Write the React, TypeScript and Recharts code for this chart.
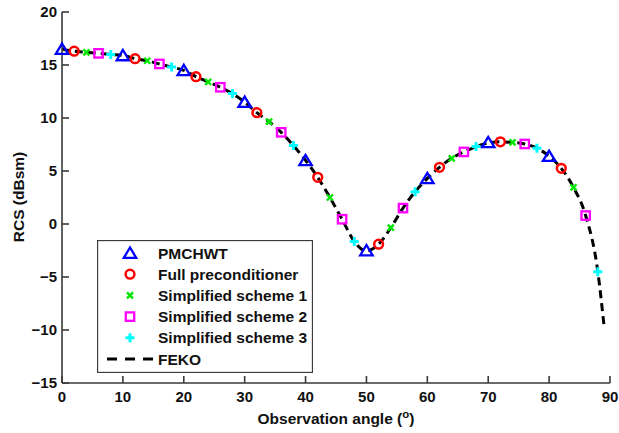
import { ComposedChart, Line, Scatter, XAxis, YAxis, Legend } from 'recharts'

// marker samples (deg, dBsm)
const pmchwtAngles = [0, 10, 20, 30, 40, 50, 60, 70, 80]
const pmchwtRcs = [16.5, 15.9, 14.5, 11.5, 6.0, -2.5, 4.3, 7.7, 6.4]
const fullAngles = [2, 12, 22, 32, 42, 52, 62, 72, 82]
const fullRcs = [16.3, 15.6, 13.9, 10.5, 4.4, -1.9, 5.35, 7.75, 5.25]
const scheme1Angles = [4, 14, 24, 34, 44, 54, 64, 74, 84]
const scheme1Rcs = [16.2, 15.4, 13.4, 9.65, 2.5, -0.35, 6.2, 7.7, 3.45]
const scheme2Angles = [6, 16, 26, 36, 46, 56, 66, 76, 86]
const scheme2Rcs = [16.1, 15.1, 12.9, 8.65, 0.45, 1.5, 6.8, 7.55, 0.8]
const scheme3Angles = [8, 18, 28, 38, 48, 58, 68, 78, 88]
const scheme3Rcs = [16.0, 14.8, 12.3, 7.4, -1.65, 3.05, 7.3, 7.15, -4.5]

// FEKO reference curve
const fekoAngles = [
  0, 2, 4, 6, 8, 10, 12, 14, 16, 18, 20, 22, 24, 26, 28, 30, 32, 34, 36, 38, 40, 42, 44,
  46, 48, 50, 52, 54, 56, 58, 60, 62, 64, 66, 68, 70, 72, 74, 76, 78, 80, 82, 84, 86, 88, 89,
]
const fekoRcs = [
  16.5, 16.3, 16.2, 16.1, 16.0, 15.9, 15.6, 15.4, 15.1, 14.8, 14.5, 13.9, 13.4, 12.9, 12.3,
  11.5, 10.5, 9.65, 8.65, 7.4, 6.0, 4.4, 2.5, 0.45, -1.65, -2.55, -1.9, -0.35, 1.5, 3.05, 4.3,
  5.35, 6.2, 6.8, 7.3, 7.65, 7.75, 7.7, 7.55, 7.15, 6.4, 5.25, 3.45, 0.8, -4.5, -9.5,
]

const xTicks = [0, 10, 20, 30, 40, 50, 60, 70, 80, 90]
const yTicks = [-15, -10, -5, 0, 5, 10, 15, 20]

const toPoints = (xs: number[], ys: number[]) => xs.map((x, i) => ({ x, y: ys[i] }))

const FONT = '"Liberation Sans", Arial, sans-serif'
const AXIS = '#3a3a3a'
const TICK_LEN = 7
const BOTTOM_GAP = 8
const LEFT_GAP = 5

const minus = (v: number) => String(v).replace('-', '\u2212')
const labelProps = { fontFamily: FONT, fontWeight: 'bold', fontSize: 15, fill: '#111' }

// inward ticks drawn with the labels (label position = axis position + gap)
const BottomTick = ({ x, y, payload }: any) => (
  <g>
    <line x1={x} x2={x} y1={y - BOTTOM_GAP} y2={y - BOTTOM_GAP - TICK_LEN} stroke={AXIS} strokeWidth={1.6} />
    <text x={x} y={y} dy="0.75em" textAnchor="middle" {...labelProps}>
      {minus(payload.value)}
    </text>
  </g>
)
const LeftTick = ({ x, y, payload }: any) => (
  <g>
    <line x1={x + LEFT_GAP} x2={x + LEFT_GAP + TICK_LEN} y1={y} y2={y} stroke={AXIS} strokeWidth={1.6} />
    <text x={x} y={y} dy="0.36em" textAnchor="end" {...labelProps}>
      {minus(payload.value)}
    </text>
  </g>
)
const TopTick = ({ x, y }: any) => (
  <line x1={x} x2={x} y1={y} y2={y + TICK_LEN} stroke={AXIS} strokeWidth={1.6} />
)
const RightTick = ({ x, y }: any) => (
  <line x1={x} x2={x - TICK_LEN} y1={y} y2={y} stroke={AXIS} strokeWidth={1.6} />
)

const Triangle = ({ cx, cy }: any) => (
  <polygon
    points={`${cx},${cy - 5.5} ${cx - 6.2},${cy + 4.8} ${cx + 6.2},${cy + 4.8}`}
    fill="none"
    stroke="#0000ff"
    strokeWidth={2.3}
  />
)
const Ring = ({ cx, cy }: any) => (
  <circle cx={cx} cy={cy} r={4.4} fill="none" stroke="#ff0000" strokeWidth={2.5} />
)
const XMark = ({ cx, cy }: any) => (
  <path
    d={`M${cx - 3},${cy - 3}L${cx + 3},${cy + 3}M${cx - 3},${cy + 3}L${cx + 3},${cy - 3}`}
    stroke="#00e600"
    strokeWidth={2.4}
  />
)
const Box = ({ cx, cy }: any) => (
  <rect x={cx - 4.2} y={cy - 4.2} width={8.4} height={8.4} fill="none" stroke="#ff00ff" strokeWidth={2.3} />
)
const Plus = ({ cx, cy }: any) => (
  <path
    d={`M${cx - 4.5},${cy}L${cx + 4.5},${cy}M${cx},${cy - 4.5}L${cx},${cy + 4.5}`}
    stroke="#00ffff"
    strokeWidth={3}
  />
)

const legendRows: [string, (p: any) => React.JSX.Element | null][] = [
  ['PMCHWT', Triangle],
  ['Full preconditioner', Ring],
  ['Simplified scheme 1', XMark],
  ['Simplified scheme 2', Box],
  ['Simplified scheme 3', Plus],
  ['FEKO', () => null],
]

function LegendBox() {
  const rowH = 21.2
  return (
    <svg width={216} height={133} style={{ display: 'block' }}>
      <rect x={0.5} y={0.5} width={215} height={132} fill="#fff" stroke={AXIS} strokeWidth={1.3} />
      {legendRows.map(([label, Icon], i) => {
        const cy = 13 + i * rowH
        return (
          <g key={label}>
            {label === 'FEKO' ? (
              <line x1={10} x2={56} y1={cy} y2={cy} stroke="#000" strokeWidth={3} strokeDasharray="10 8" />
            ) : (
              <Icon cx={33} cy={cy} />
            )}
            <text x={61} y={cy + 5.5} fontFamily={FONT} fontWeight="bold" fontSize={15.5} fill="#111">
              {label}
            </text>
          </g>
        )
      })}
    </svg>
  )
}

export default function App() {
  return (
    <div style={{ position: 'absolute', left: 0, top: 0, width: 619, height: 433, background: '#fff' }}>
      <ComposedChart
        width={619}
        height={433}
        data={toPoints(fekoAngles, fekoRcs)}
        margin={{ top: 12, right: 9, bottom: 20, left: 12 }}
      >
        <XAxis
          dataKey="x"
          type="number"
          domain={[0, 90]}
          ticks={xTicks}
          height={30}
          tick={BottomTick}
          tickLine={false}
          tickSize={0}
          tickMargin={BOTTOM_GAP}
          stroke={AXIS}
          strokeWidth={1.6}
          label={{
            content: () => (
              <text x={336} y={424} textAnchor="middle" fontFamily={FONT} fontWeight="bold" fontSize={15.5} fill="#111">
                Observation angle (
                <tspan dy={-6} fontSize={11.5}>o</tspan>
                <tspan dy={6}>)</tspan>
              </text>
            ),
          }}
        />
        <XAxis
          xAxisId="top"
          orientation="top"
          type="number"
          domain={[0, 90]}
          ticks={xTicks}
          height={0}
          mirror
          tick={TopTick}
          tickLine={false}
          tickSize={0}
          tickMargin={0}
          stroke={AXIS}
          strokeWidth={1.6}
        />
        <YAxis
          dataKey="y"
          type="number"
          domain={[-15, 20]}
          ticks={yTicks}
          width={50}
          tick={LeftTick}
          tickLine={false}
          tickSize={0}
          tickMargin={LEFT_GAP}
          stroke={AXIS}
          strokeWidth={1.6}
          label={{
            content: () => (
              <text
                x={18}
                y={197}
                transform="rotate(-90 18 197)"
                textAnchor="middle"
                dominantBaseline="central"
                fontFamily={FONT}
                fontWeight="bold"
                fontSize={15.5}
                fill="#111"
              >
                RCS (dBsm)
              </text>
            ),
          }}
        />
        <YAxis
          yAxisId="right"
          orientation="right"
          type="number"
          domain={[-15, 20]}
          ticks={yTicks}
          width={0}
          mirror
          tick={RightTick}
          tickLine={false}
          tickSize={0}
          tickMargin={0}
          stroke={AXIS}
          strokeWidth={1.6}
        />
        <Scatter name="PMCHWT" data={toPoints(pmchwtAngles, pmchwtRcs)} shape={Triangle} isAnimationActive={false} />
        <Scatter name="Full preconditioner" data={toPoints(fullAngles, fullRcs)} shape={Ring} isAnimationActive={false} />
        <Scatter name="Simplified scheme 1" data={toPoints(scheme1Angles, scheme1Rcs)} shape={XMark} isAnimationActive={false} />
        <Scatter name="Simplified scheme 2" data={toPoints(scheme2Angles, scheme2Rcs)} shape={Box} isAnimationActive={false} />
        <Scatter name="Simplified scheme 3" data={toPoints(scheme3Angles, scheme3Rcs)} shape={Plus} isAnimationActive={false} />
        <Line
          name="FEKO"
          dataKey="y"
          type="monotone"
          stroke="#000"
          strokeWidth={3}
          strokeDasharray="8 5"
          dot={false}
          isAnimationActive={false}
        />
        <Legend
          layout="vertical"
          align="center"
          verticalAlign="middle"
          wrapperStyle={{ left: 97, top: 240, width: 216 }}
          content={() => <LegendBox />}
        />
      </ComposedChart>
    </div>
  )
}
